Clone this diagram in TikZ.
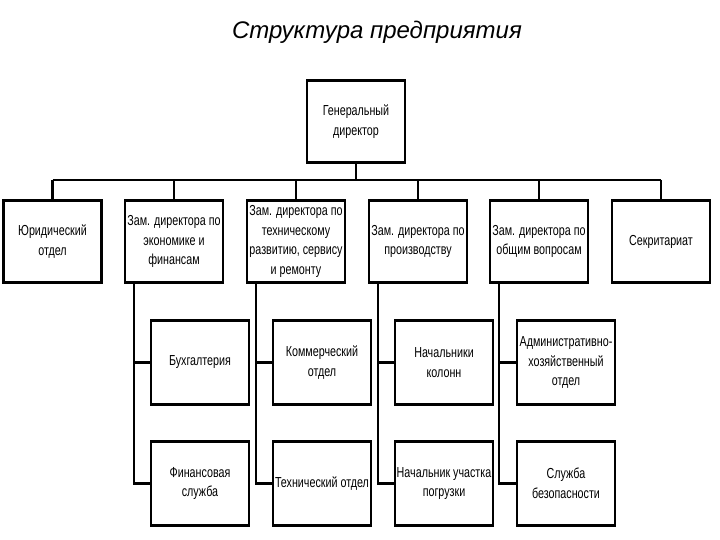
\documentclass[tikz,border=0pt]{standalone}
\usepackage{fontspec}
\setmainfont{Liberation Sans}[FakeStretch=0.74]
\newfontfamily\titlefont{Liberation Sans}
\usetikzlibrary{positioning}

\begin{document}
\begin{tikzpicture}[x=1pt, y=-1pt]
    % Define styles
    \tikzstyle{unit} = [rectangle, draw, line width=2.6pt, minimum width=98pt, minimum height=82pt, align=center, inner sep=1pt, font=\fontsize{14.5}{19.5}\selectfont]
    \tikzstyle{link} = [line width=2.4pt]

    \useasboundingbox (0,0) rectangle (720,540);

    % Title
    \node (title) at (377,32) {\titlefont\itshape\fontsize{24}{28}\selectfont Структура предприятия};

    % General director
    \node [unit] (gendir) at (356,121.5) {Генеральный\\директор};

    % Second level
    \node [unit] (legal) at (52.5,241.5) {Юридический\\отдел};
    \node [unit] (econ) at (174,241.5) {Зам. директора по\\экономике и\\финансам};
    \node [unit] (tech) at (296,241.5) {Зам. директора по\\техническому\\развитию, сервису\\и ремонту};
    \node [unit] (prod) at (418,241.5) {Зам. директора по\\производству};
    \node [unit] (general) at (539,241.5) {Зам. директора по\\общим вопросам};
    \node [unit] (secr) at (661,241.5) {Секритариат};

    % Third level
    \node [unit, minimum height=84pt] (account) at (200,362.5) {Бухгалтерия};
    \node [unit, minimum height=84pt] (finserv) at (200,483.5) {Финансовая\\служба};
    \node [unit, minimum height=84pt] (commerce) at (322,362.5) {Коммерческий\\отдел};
    \node [unit, minimum height=84pt] (techdep) at (322,483.5) {Технический отдел};
    \node [unit, minimum height=84pt] (columns) at (444,362.5) {Начальники\\колонн};
    \node [unit, minimum height=84pt] (loading) at (444,483.5) {Начальник участка\\погрузки};
    \node [unit, minimum height=84pt] (admin) at (566,362.5) {Административно-\\хозяйственный\\отдел};
    \node [unit, minimum height=84pt] (security) at (566,483.5) {Служба\\безопасности};

    % Bus
    \coordinate (bus) at (356,180);
    \draw [link] (gendir) -- (bus);
    \draw [link] (legal.north |- bus) -- (secr.north |- bus);
    \foreach \n in {legal,econ,tech,prod,general,secr}
        \draw [link] (\n.north |- bus) -- (\n.north);

    % Branches
    \draw [link] ([xshift=10pt]econ.south west) |- (finserv.west);
    \draw [link] ([xshift=10pt]econ.south west |- account.west) -- (account.west);
    \draw [link] ([xshift=10pt]tech.south west) |- (techdep.west);
    \draw [link] ([xshift=10pt]tech.south west |- commerce.west) -- (commerce.west);
    \draw [link] ([xshift=10pt]prod.south west) |- (loading.west);
    \draw [link] ([xshift=10pt]prod.south west |- columns.west) -- (columns.west);
    \draw [link] ([xshift=10pt]general.south west) |- (security.west);
    \draw [link] ([xshift=10pt]general.south west |- admin.west) -- (admin.west);
\end{tikzpicture}
\end{document}
